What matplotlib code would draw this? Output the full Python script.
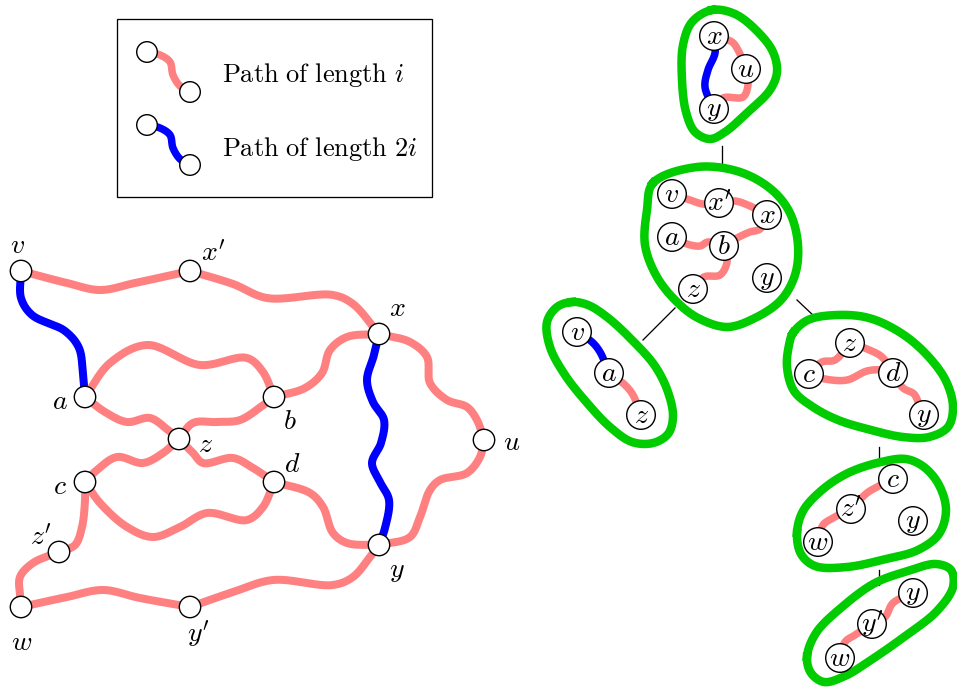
import numpy as np
import matplotlib
matplotlib.use("Agg")
import matplotlib.pyplot as plt
from matplotlib.patches import Circle, Rectangle

plt.rcParams['mathtext.fontset'] = 'cm'

PINK = '#FF8080'
BLUE = '#0000FF'
GREEN = '#00CC00'
COLORS = {'pink': PINK, 'blue': BLUE}

# ---------------- left graph ----------------
LEFT_NODES = {
    'v': (21, 271), 'xp': (190, 271), 'x': (379, 334), 'a': (85, 397),
    'b': (274, 397), 'z': (179, 439), 'u': (484, 440), 'c': (85, 482),
    'd': (274, 482), 'zp': (59, 552), 'y': (379, 545), 'w': (21, 607),
    'yp': (190, 607),
}
LEFT_LABELS = {
    'v': r'$v$', 'xp': r"$x'$", 'x': r'$x$', 'a': r'$a$', 'b': r'$b$',
    'z': r'$z$', 'u': r'$u$', 'c': r'$c$', 'd': r'$d$', 'zp': r"$z'$",
    'y': r'$y$', 'w': r'$w$', 'yp': r"$y'$",
}
LEFT_LABEL_POS = {
    'v': (18, 245), 'xp': (213, 254), 'x': (397, 308), 'a': (60, 401),
    'b': (290, 421), 'z': (205, 444), 'u': (512, 442), 'c': (60, 486),
    'd': (292, 464), 'zp': (41, 538), 'y': (397, 570), 'w': (22, 642),
    'yp': (198, 634),
}
LEFT_EDGES = [
    ('v', 'xp', 'pink', [(67, 283), (100, 290), (135, 283)]),
    ('xp', 'x', 'pink', [(233, 284), (267, 298), (333, 295), (353, 304)]),
    ('v', 'a', 'blue', [(21, 298), (32, 315), (65, 331), (79, 348), (83, 375)]),
    ('a', 'b', 'pink', [(110, 363), (147, 345), (200, 365), (247, 358), (263, 372)]),
    ('a', 'z', 'pink', [(105, 412), (127, 422), (150, 418), (168, 430)]),
    ('z', 'b', 'pink', [(193, 423), (217, 422), (240, 420), (262, 406)]),
    ('b', 'x', 'pink', [(305, 388), (322, 373), (330, 350), (347, 337)]),
    ('x', 'y', 'blue', [(374, 355), (367, 380), (373, 402), (384, 420), (381, 443),
                        (372, 463), (380, 482), (389, 500), (385, 528)]),
    ('x', 'u', 'pink', [(410, 342), (427, 357), (430, 383), (447, 400), (467, 407), (477, 420)]),
    ('z', 'c', 'pink', [(163, 453), (143, 463), (117, 457), (97, 470)]),
    ('z', 'd', 'pink', [(193, 453), (203, 463), (233, 458), (253, 468)]),
    ('c', 'd', 'pink', [(100, 503), (127, 527), (153, 537), (180, 527), (207, 513),
                        (247, 520), (263, 507)]),
    ('d', 'y', 'pink', [(310, 493), (323, 507), (333, 533), (347, 543)]),
    ('y', 'u', 'pink', [(410, 537), (420, 517), (430, 490), (440, 480), (467, 473), (480, 457)]),
    ('c', 'zp', 'pink', [(85, 500), (82, 527), (75, 545)]),
    ('zp', 'w', 'pink', [(33, 563), (20, 577), (20, 595)]),
    ('w', 'yp', 'pink', [(67, 597), (103, 590), (140, 598)]),
    ('yp', 'y', 'pink', [(233, 592), (273, 580), (333, 585), (353, 577), (370, 557)]),
]

# ---------------- legend ----------------
LEGEND_BOX = (117, 19, 432, 197)
LEGEND_ITEMS = [
    ('pink', r'$\mathrm{Path\ of\ length}\ i$', [(147, 52), (160, 55), (170, 62), (173, 75), (180, 86), (190, 92)]),
    ('blue', r'$\mathrm{Path\ of\ length}\ 2i$', [(147, 125), (160, 128), (170, 135), (173, 148), (180, 159), (190, 165)]),
]
LEGEND_TEXT_X = 222
LEGEND_TEXT_Y = [82, 156]

# ---------------- tree decomposition ----------------
BAGS = [
    {   # top
        'nodes': {'x': (714, 36), 'u': (746, 69), 'y': (714, 109)},
        'labels': {'x': r'$x$', 'u': r'$u$', 'y': r'$y$'},
        'edges': [('x', 'y', 'blue', [(715, 53), (708, 70), (705, 87)]),
                  ('x', 'u', 'pink', [(732, 42), (738, 50)]),
                  ('u', 'y', 'pink', [(748, 85), (743, 97), (723, 98)])],
        'outline': [(712, 10), (735, 14), (758, 32), (773, 52), (777, 72), (770, 90),
                    (748, 112), (725, 132), (710, 139), (695, 132), (686, 112),
                    (682, 80), (683, 45), (692, 22)],
    },
    {   # middle
        'nodes': {'v': (672, 194), 'xp': (719, 203), 'x': (767, 215), 'a': (672, 237),
                  'b': (724, 246), 'z': (693, 289), 'y': (767, 278)},
        'labels': {'v': r'$v$', 'xp': r"$x'$", 'x': r'$x$', 'a': r'$a$',
                   'b': r'$b$', 'z': r'$z$', 'y': r'$y$'},
        'edges': [('v', 'xp', 'pink', [(690, 200), (703, 204)]),
                  ('xp', 'x', 'pink', [(735, 201), (750, 206)]),
                  ('a', 'b', 'pink', [(687, 244), (700, 246), (708, 242)]),
                  ('b', 'x', 'pink', [(737, 238), (750, 232), (760, 229)]),
                  ('b', 'z', 'pink', [(727, 262), (720, 275), (704, 277)])],
        'outline': [(653, 183), (697, 167), (740, 172), (772, 190), (790, 213),
                    (798, 245), (795, 275), (781, 300), (755, 318), (727, 327),
                    (698, 318), (677, 302), (657, 277), (645, 245), (647, 210)],
    },
    {   # left
        'nodes': {'v': (577, 332), 'a': (609, 373), 'z': (641, 415)},
        'labels': {'v': r'$v$', 'a': r'$a$', 'z': r'$z$'},
        'edges': [('v', 'a', 'blue', [(592, 342), (600, 352)]),
                  ('a', 'z', 'pink', [(625, 385), (633, 395)])],
        'outline': [(572, 302), (557, 307), (547, 322), (550, 347), (565, 375),
                    (588, 404), (610, 427), (632, 442), (653, 443), (668, 434),
                    (673, 417), (668, 392), (655, 366), (632, 340), (607, 317),
                    (588, 305)],
    },
    {   # right
        'nodes': {'z': (850, 343), 'c': (809, 374), 'd': (893, 373), 'y': (924, 415)},
        'labels': {'z': r'$z$', 'c': r'$c$', 'd': r'$d$', 'y': r'$y$'},
        'edges': [('c', 'z', 'pink', [(822, 362), (835, 360)]),
                  ('z', 'd', 'pink', [(867, 349), (882, 357)]),
                  ('c', 'd', 'pink', [(825, 379), (847, 380), (867, 371), (882, 370)]),
                  ('d', 'y', 'pink', [(903, 388), (914, 394), (919, 404)])],
        'outline': [(793, 333), (808, 320), (837, 315), (869, 318), (901, 333),
                    (927, 355), (946, 381), (953, 407), (948, 427), (929, 437),
                    (903, 437), (871, 430), (838, 420), (813, 407), (794, 391),
                    (787, 367), (789, 345)],
    },
    {   # lower
        'nodes': {'c': (893, 479), 'zp': (851, 509), 'w': (818, 542), 'y': (913, 521)},
        'labels': {'c': r'$c$', 'zp': r"$z'$", 'w': r'$w$', 'y': r'$y$'},
        'edges': [('c', 'zp', 'pink', [(877, 487), (867, 493)]),
                  ('zp', 'w', 'pink', [(833, 518), (823, 525)])],
        'outline': [(797, 533), (803, 511), (822, 490), (848, 473), (881, 462),
                    (906, 459), (924, 467), (939, 485), (946, 510), (939, 534),
                    (918, 550), (886, 559), (847, 567), (815, 566), (801, 554)],
    },
    {   # bottom
        'nodes': {'y': (913, 593), 'yp': (872, 624), 'w': (840, 658)},
        'labels': {'y': r'$y$', 'yp': r"$y'$", 'w': r'$w$'},
        'edges': [('y', 'yp', 'pink', [(893, 603), (885, 617)]),
                  ('yp', 'w', 'pink', [(855, 635), (845, 642)])],
        'outline': [(807, 657), (816, 633), (842, 607), (875, 583), (908, 571),
                    (936, 564), (951, 570), (953, 587), (937, 611), (904, 637),
                    (871, 660), (845, 676), (824, 682), (811, 673)],
    },
]
TREE_LINKS = [((722, 146), (722, 166)), ((675, 308), (643, 340)),
              ((797, 300), (815, 317)), ((879, 447), (879, 460)),
              ((879, 570), (879, 585))]


def cr_segment(p0, p1, p2, p3, n):
    def tj(ti, pi, pj):
        return ti + max(np.linalg.norm(pj - pi), 1e-6) ** 0.5
    t0 = 0.0
    t1 = tj(t0, p0, p1)
    t2 = tj(t1, p1, p2)
    t3 = tj(t2, p2, p3)
    t = np.linspace(t1, t2, n, endpoint=False)[:, None]
    A1 = (t1 - t) / (t1 - t0) * p0 + (t - t0) / (t1 - t0) * p1
    A2 = (t2 - t) / (t2 - t1) * p1 + (t - t1) / (t2 - t1) * p2
    A3 = (t3 - t) / (t3 - t2) * p2 + (t - t2) / (t3 - t2) * p3
    B1 = (t2 - t) / (t2 - t0) * A1 + (t - t0) / (t2 - t0) * A2
    B2 = (t3 - t) / (t3 - t1) * A2 + (t - t1) / (t3 - t1) * A3
    return (t2 - t) / (t2 - t1) * B1 + (t - t1) / (t2 - t1) * B2


def smooth(points, closed=False, n=24):
    pts = np.array(points, dtype=float)
    if closed:
        P = np.vstack([pts[-1], pts, pts[0], pts[1]])
    else:
        P = np.vstack([2 * pts[0] - pts[1], pts, 2 * pts[-1] - pts[-2]])
    segs = [cr_segment(P[i - 1], P[i], P[i + 1], P[i + 2], n) for i in range(1, len(P) - 2)]
    segs.append(P[-2][None, :])
    return np.vstack(segs)


fig = plt.figure(figsize=(9.57, 6.89), dpi=100)
ax = fig.add_axes([0, 0, 1, 1])
ax.set_xlim(0, 957)
ax.set_ylim(689, 0)
ax.axis('off')

PX = 0.72  # points per pixel


def draw_edge(p_start, p_end, color, via, lw_px):
    pts = [p_start] + list(via) + [p_end]
    c = smooth(pts)
    ax.plot(c[:, 0], c[:, 1], color=COLORS[color], lw=lw_px * PX,
            solid_capstyle='round', solid_joinstyle='round', zorder=2)


def draw_node(p, r):
    ax.add_patch(Circle(p, r, facecolor='white', edgecolor='black', lw=1.4 * PX, zorder=4))


# left graph
for s, e, col, via in LEFT_EDGES:
    draw_edge(LEFT_NODES[s], LEFT_NODES[e], col, via, 8)
for k, p in LEFT_NODES.items():
    draw_node(p, 10.7)
    lx, ly = LEFT_LABEL_POS[k]
    ax.text(lx, ly, LEFT_LABELS[k], fontsize=20, ha='center', va='center', zorder=5)

# legend
x0, y0, x1, y1 = LEGEND_BOX
ax.add_patch(Rectangle((x0, y0), x1 - x0, y1 - y0, fill=False, edgecolor='black',
                       lw=1.3 * PX, zorder=1))
for (col, txt, path), ty in zip(LEGEND_ITEMS, LEGEND_TEXT_Y):
    draw_edge(path[0], path[-1], col, path[1:-1], 7.5)
    draw_node(path[0], 10.3)
    draw_node(path[-1], 10.3)
    ax.text(LEGEND_TEXT_X, ty, txt, fontsize=19, ha='left', va='baseline', zorder=5)

# tree decomposition
for (a, b) in TREE_LINKS:
    ax.plot([a[0], b[0]], [a[1], b[1]], color='black', lw=1.3 * PX, zorder=1)
for bag in BAGS:
    o = smooth(bag['outline'], closed=True)
    ax.plot(o[:, 0], o[:, 1], color=GREEN, lw=8.5 * PX, solid_joinstyle='round', zorder=2)
    for s, e, col, via in bag['edges']:
        draw_edge(bag['nodes'][s], bag['nodes'][e], col, via, 7.5)
    for k, p in bag['nodes'].items():
        draw_node(p, 14.3)
        ax.text(p[0], p[1], bag['labels'][k], fontsize=20, ha='center', va='center', zorder=5)

fig.savefig('out.png', dpi=100)
